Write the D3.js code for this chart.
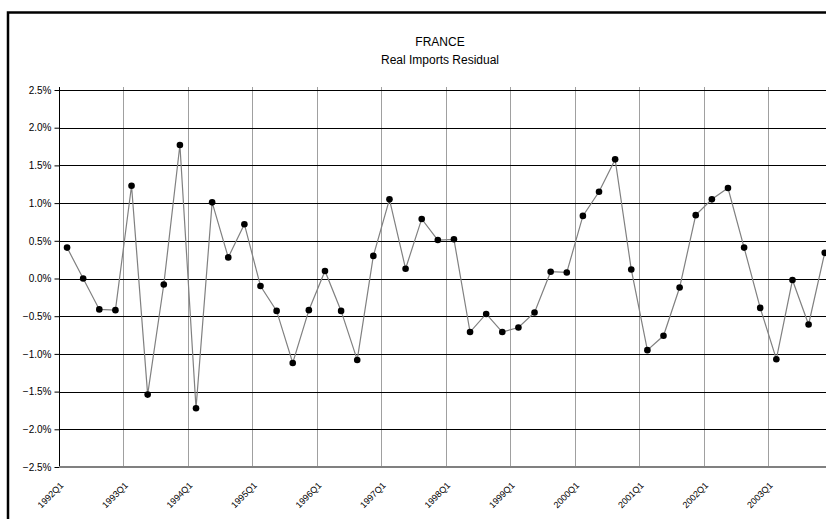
<!DOCTYPE html>
<html>
<head>
<meta charset="utf-8">
<script src="https://cdn.jsdelivr.net/npm/d3@7/dist/d3.min.js"></script>
<style>
body { margin: 0; background: #fff; }
svg { display: block; font-family: "Liberation Sans", Arial, sans-serif; }
</style>
</head>
<body>
<svg width="826" height="519"></svg>
<script>
var years = d3.range(1992, 2004);
var quarters = [];
years.forEach(function(y) {
    for (var q = 1; q <= 4; q++) quarters.push(y + "Q" + q);
});

// residual, percent
var residual = [
    0.41, 0.00, -0.41, -0.42, 1.23, -1.54, -0.08, 1.77,
    -1.72, 1.01, 0.28, 0.72, -0.10, -0.43, -1.12, -0.42,
    0.10, -0.43, -1.08, 0.30, 1.05, 0.13, 0.79, 0.51,
    0.52, -0.71, -0.47, -0.71, -0.65, -0.45, 0.09, 0.08,
    0.83, 1.15, 1.58, 0.12, -0.95, -0.76, -0.12, 0.84,
    1.05, 1.20, 0.41, -0.39, -1.07, -0.02, -0.61, 0.34
];

var yTicks = [-0.025, -0.02, -0.015, -0.01, -0.005, 0, 0.005, 0.01, 0.015, 0.02, 0.025];

var svg = d3.select("svg");

var plotLeft = 59, plotTop = 90, plotBottom = 467, step = 16.12;

var x = d3.scaleBand()
    .domain(quarters)
    .range([plotLeft, plotLeft + quarters.length * step])
    .padding(0);

var y = d3.scaleLinear()
    .domain([-0.025, 0.025])
    .range([plotBottom, plotTop]);

// outer frame (cut off on right and bottom)
svg.append("rect")
    .attr("x", 8)
    .attr("y", 12.5)
    .attr("width", 1000)
    .attr("height", 1000)
    .attr("fill", "none")
    .attr("stroke", "#000")
    .attr("stroke-width", 2.5);

svg.append("text")
    .attr("x", 440)
    .attr("y", 46)
    .attr("text-anchor", "middle")
    .attr("font-size", 12)
    .text("FRANCE");

svg.append("text")
    .attr("x", 440)
    .attr("y", 64)
    .attr("text-anchor", "middle")
    .attr("font-size", 12)
    .text("Real Imports Residual");

// vertical gridlines at year starts
var yearStarts = quarters.filter(function(d, i) { return i % 4 == 0; });

svg.append("g")
    .selectAll("line")
    .data(yearStarts.slice(1))
    .enter()
    .append("line")
    .attr("x1", function(d) { return Math.round(x(d)) + 0.5; })
    .attr("x2", function(d) { return Math.round(x(d)) + 0.5; })
    .attr("y1", plotTop - 3)
    .attr("y2", plotBottom)
    .attr("stroke", "#a0a0a0")
    .attr("stroke-width", 1);

// horizontal gridlines
svg.append("g")
    .selectAll("line")
    .data(yTicks.slice(1))
    .enter()
    .append("line")
    .attr("x1", plotLeft)
    .attr("x2", 826)
    .attr("y1", function(d) { return Math.round(y(d)) + 0.5; })
    .attr("y2", function(d) { return Math.round(y(d)) + 0.5; })
    .attr("stroke", "#000")
    .attr("stroke-width", 1);

// y axis
var yAxis = svg.append("g")
    .attr("transform", "translate(" + (plotLeft + 0.5) + ",0)")
    .call(d3.axisLeft(y)
        .tickValues(yTicks)
        .tickFormat(d3.format(".1%"))
        .tickSize(5)
        .tickSizeOuter(0));
yAxis.select(".domain").attr("stroke", "#000").attr("d", "M0," + (plotTop - 3) + "V" + plotBottom);
yAxis.selectAll(".tick line").attr("stroke", "#000");
yAxis.selectAll(".tick text")
    .attr("x", -8)
    .attr("font-size", 10)
    .attr("font-family", "Liberation Sans, Arial, sans-serif")
    .attr("fill", "#000");

// x axis line
svg.append("line")
    .attr("x1", plotLeft)
    .attr("x2", 826)
    .attr("y1", plotBottom)
    .attr("y2", plotBottom)
    .attr("stroke", "#808080")
    .attr("stroke-width", 2);

// x labels
svg.append("g")
    .selectAll("text")
    .data(yearStarts)
    .enter()
    .append("text")
    .attr("transform", function(d) {
        return "translate(" + (x(d) + 5) + "," + (plotBottom + 19) + ") rotate(-45)";
    })
    .attr("text-anchor", "end")
    .attr("font-size", 9)
    .text(function(d) { return d; });

// series line
var line = d3.line()
    .x(function(d, i) { return x(quarters[i]) + x.bandwidth() / 2; })
    .y(function(d) { return y(d / 100); });

svg.append("path")
    .datum(residual)
    .attr("d", line)
    .attr("fill", "none")
    .attr("stroke", "#808080")
    .attr("stroke-width", 1.2);

svg.append("g")
    .selectAll("circle")
    .data(residual)
    .enter()
    .append("circle")
    .attr("cx", function(d, i) { return x(quarters[i]) + x.bandwidth() / 2; })
    .attr("cy", function(d) { return y(d / 100); })
    .attr("r", 3.3)
    .attr("fill", "#000");
</script>
</body>
</html>
